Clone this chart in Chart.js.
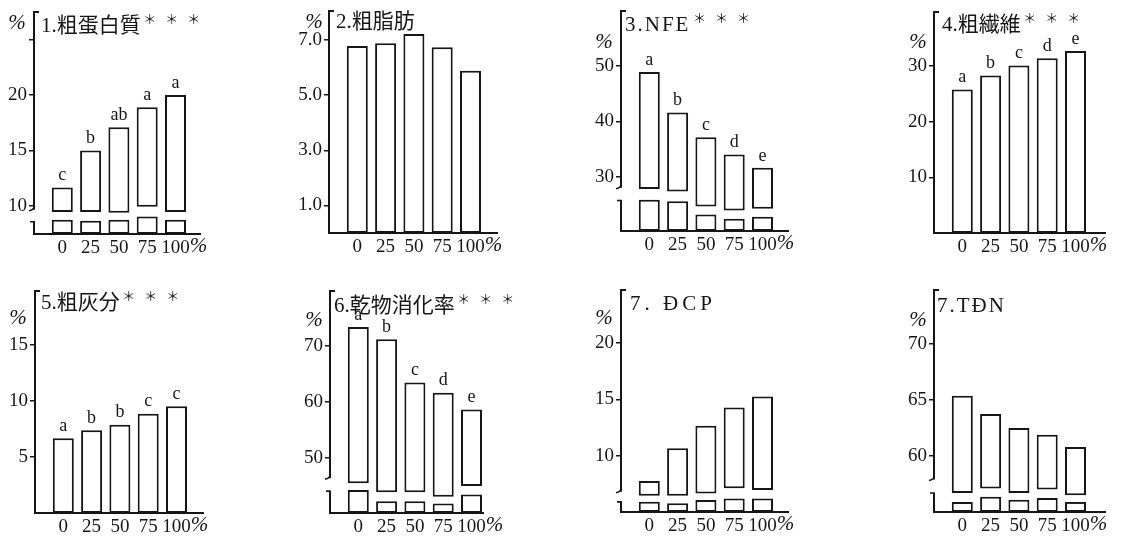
<!DOCTYPE html>
<html lang="ja">
<head>
<meta charset="utf-8">
<title>飼料成分と消化率</title>
<script src="https://cdn.jsdelivr.net/npm/chart.js@4.4.1/dist/chart.umd.min.js"></script>
<style>
  html, body { margin: 0; padding: 0; background: #fff; }
  #wrap { position: relative; width: 1132px; height: 547px; overflow: hidden; }
  #wrap canvas { position: absolute; }
</style>
</head>
<body>
<div id="wrap"></div>
<script>
// mixing level on the x axis (unit % is written after the last one)
const levels = ['0', '25', '50', '75', '100'];
const levelUnit = '%';

// 1. 粗蛋白質
const cpValues = [11.65, 15.0, 17.1, 18.9, 20.0];
const cpLetters = ['c', 'b', 'ab', 'a', 'a'];
const cpTicks = [10, 15, 20, 25];
const cpTickLabels = ['10', '15', '20', ''];
const cpStub = [8.74, 8.65, 8.74, 9.04, 8.74];
const cpBreak = [9.43, 9.43, 9.37, 9.9, 9.43];

// 2. 粗脂肪
const fatValues = [6.78, 6.88, 7.22, 6.74, 5.88];
const fatTicks = [1, 3, 5, 7];
const fatTickLabels = ['1.0', '3.0', '5.0', '7.0'];

// 3. NFE
const nfeValues = [48.9, 41.6, 37.1, 34.0, 31.6];
const nfeLetters = ['a', 'b', 'c', 'd', 'e'];
const nfeTicks = [30, 40, 50];
const nfeStub = [25.85, 25.55, 23.2, 22.4, 22.75];
const nfeBreak = [27.8, 27.35, 24.6, 23.9, 24.2];

// 4. 粗繊維
const fibValues = [25.8, 28.3, 30.1, 31.4, 32.7];
const fibLetters = ['a', 'b', 'c', 'd', 'e'];
const fibTicks = [10, 20, 30];

// 5. 粗灰分
const ashValues = [6.67, 7.38, 7.88, 8.86, 9.52];
const ashLetters = ['a', 'b', 'b', 'c', 'c'];
const ashTicks = [5, 10, 15];

// 6. 乾物消化率
const dmdValues = [73.3, 71.1, 63.4, 61.6, 58.6];
const dmdLetters = ['a', 'b', 'c', 'd', 'e'];
const dmdTicks = [50, 60, 70];
const dmdStub = [44.3, 42.3, 42.3, 41.9, 43.5];
const dmdBreak = [45.5, 43.9, 43.9, 43.1, 45.0];

// 7. DCP
const dcpValues = [7.75, 10.65, 12.65, 14.27, 15.25];
const dcpTicks = [10, 15, 20];
const dcpStub = [5.9, 5.77, 6.06, 6.2, 6.2];
const dcpBreak = [6.44, 6.45, 6.65, 7.1, 6.95];

// 7. TDN
const tdnValues = [65.36, 63.75, 62.5, 61.9, 60.8];
const tdnTicks = [60, 65, 70];
const tdnStub = [55.9, 56.35, 56.1, 56.25, 55.9];
const tdnBreak = [56.7, 57.1, 56.7, 57.0, 56.5];

const ink = '#161616';
const serif = '"Liberation Serif", "DejaVu Serif", serif';
const jp = '"Liberation Serif", "Noto Sans CJK JP", serif';
const PITCH = 28.3;   // px between bars
const YW = 30;        // fixed y axis box width

// cell = [left, top, width, height], box = [axisX, axisTop, xEnd, baseline]
const panels = [
  { title: '1.粗蛋白質', stars: true, values: cpValues, letters: cpLetters, ticks: cpTicks, tickLabels: cpTickLabels,
    stub: cpStub, brk: cpBreak, min: 7.45, max: 27.5, axisBreak: [8.56, 9.64],
    cell: [0, -6, 280, 279], box: [34, 12, 200, 234], titleAt: [7, 14], pctAt: [-17, 11] },
  { title: '2.粗脂肪', values: fatValues, ticks: fatTicks, tickLabels: fatTickLabels, min: 0, max: 8.05,
    cell: [280, -6, 280, 279], box: [329, 11, 497, 233], titleAt: [7, 11], pctAt: [-15, 11] },
  { title: '3.NFE', spacing: '2px', stars: true, values: nfeValues, letters: nfeLetters, ticks: nfeTicks,
    stub: nfeStub, brk: nfeBreak, min: 20.2, max: 59.9, axisBreak: [25.7, 28.0],
    cell: [560, -6, 280, 279], box: [621, 11, 788, 231], titleAt: [4, 14], pctAt: [-17, 31] },
  { title: '4.粗繊維', stars: true, values: fibValues, letters: fibLetters, ticks: fibTicks, min: 0, max: 39.7,
    cell: [840, -6, 292, 279], box: [934, 12, 1105, 233], titleAt: [8, 13], pctAt: [-16, 30] },
  { title: '5.粗灰分', stars: true, values: ashValues, letters: ashLetters, ticks: ashTicks, min: 0, max: 19.8,
    cell: [0, 273, 280, 274], box: [35, 291, 203, 513], titleAt: [6, 12], pctAt: [-17, 27] },
  { title: '6.乾物消化率', stars: true, values: dmdValues, letters: dmdLetters, ticks: dmdTicks,
    stub: dmdStub, brk: dmdBreak, min: 40.2, max: 79.7, axisBreak: [44.1, 46.4],
    cell: [280, 273, 280, 274], box: [330, 291, 483, 513], titleAt: [4, 15], pctAt: [-16, 29] },
  { title: '7. ĐCP', spacing: '4px', values: dcpValues, ticks: dcpTicks,
    stub: dcpStub, brk: dcpBreak, min: 5.0, max: 24.7, axisBreak: [5.9, 6.8],
    cell: [560, 273, 280, 274], box: [621, 290, 788, 512], titleAt: [9, 14], pctAt: [-17, 28] },
  { title: '7.TĐN', spacing: '2px', values: tdnValues, ticks: tdnTicks,
    stub: tdnStub, brk: tdnBreak, min: 55, max: 74.8, axisBreak: [56.7, 57.9],
    cell: [840, 273, 292, 274], box: [934, 290, 1105, 512], titleAt: [3, 16], pctAt: [-16, 30] }
];

// titles, %, significance letters and axis breaks
const panelText = {
  id: 'panelText',
  afterDraw(chart, args, o) {
    const { ctx, chartArea: a } = chart;
    const y = chart.scales.y;
    const x = chart.scales.x;
    ctx.save();
    ctx.strokeStyle = ink;
    ctx.fillStyle = ink;
    ctx.lineWidth = 2;

    // top bracket of the y axis
    ctx.beginPath();
    ctx.moveTo(a.left, a.top);
    ctx.lineTo(a.left + 5, a.top);
    ctx.stroke();

    if (o.axisBreak) {
      const yLo = y.getPixelForValue(o.axisBreak[0]);
      const yHi = y.getPixelForValue(o.axisBreak[1]);
      ctx.fillStyle = '#fff';
      ctx.fillRect(a.left - 3, yHi, 6, yLo - yHi);
      ctx.fillStyle = ink;
      ctx.lineWidth = 1.6;
      ctx.beginPath();
      ctx.moveTo(a.left, yHi - 3);
      ctx.quadraticCurveTo(a.left, yHi, a.left - 5, yHi + 1);
      ctx.moveTo(a.left - 4, yLo);
      ctx.lineTo(a.left, yLo);
      ctx.lineTo(a.left, yLo + 3);
      ctx.stroke();
    }

    // letters over bars
    if (o.letters) {
      const meta = chart.getDatasetMeta(chart.data.datasets.length - 1);
      ctx.font = '18px ' + serif;
      ctx.textAlign = 'center';
      ctx.textBaseline = 'bottom';
      o.letters.forEach((t, i) => {
        const el = meta.data[i];
        ctx.fillText(t, el.x, Math.min(el.y, el.base) - 3);
      });
    }

    // unit after the last x label
    ctx.font = '19px ' + serif;
    const last = levels.length - 1;
    const lx = x.getPixelForValue(last) + ctx.measureText(levels[last]).width / 2;
    ctx.font = 'italic 21px ' + serif;
    ctx.textAlign = 'left';
    ctx.textBaseline = 'top';
    ctx.fillText(levelUnit, lx, x.top + 2);

    // panel title
    ctx.font = '21px ' + jp;
    ctx.textAlign = 'left';
    ctx.textBaseline = 'middle';
    if (o.spacing) ctx.letterSpacing = o.spacing;
    const tx = a.left + o.titleAt[0];
    const ty = a.top + o.titleAt[1];
    ctx.fillText(o.title, tx, ty);
    const w = ctx.measureText(o.title).width;
    ctx.letterSpacing = '0px';
    if (o.stars) {
      ctx.font = '13px "Noto Sans CJK JP"';
      ctx.textAlign = 'center';
      for (let k = 0; k < 3; k++) {
        ctx.fillText('＊', tx + w + 9 + k * 22, ty - 7);
      }
    }

    // unit of the y axis
    ctx.font = 'italic 21px ' + serif;
    ctx.textAlign = 'center';
    ctx.fillText('%', a.left + o.pctAt[0], a.top + o.pctAt[1]);
    ctx.restore();
  }
};

const barStyle = {
  backgroundColor: '#fff',
  borderColor: ink,
  borderWidth: 2,
  borderSkipped: false,
  grouped: false,
  categoryPercentage: 1,
  barPercentage: 0.9,
  maxBarThickness: 21
};

panels.forEach(p => {
  const [cx, cy, cw, ch] = p.cell;
  const [ax, top, xEnd, base] = p.box;
  const canvas = document.createElement('canvas');
  canvas.width = cw;
  canvas.height = ch;
  canvas.style.left = cx + 'px';
  canvas.style.top = cy + 'px';
  document.getElementById('wrap').appendChild(canvas);

  const idx = p.values.map((v, i) => i);
  const datasets = [];
  if (p.stub) {
    datasets.push({ ...barStyle, data: idx.map(i => ({ x: i, y: [p.min, p.stub[i]] })) });
    datasets.push({ ...barStyle, data: idx.map(i => ({ x: i, y: [p.brk[i], p.values[i]] })) });
  } else {
    datasets.push({ ...barStyle, data: idx.map(i => ({ x: i, y: p.values[i] })) });
  }
  const tickLabels = p.tickLabels || p.ticks.map(String);

  new Chart(canvas, {
    type: 'bar',
    data: { datasets },
    options: {
      responsive: false,
      animation: false,
      layout: { padding: { left: ax - cx - YW, top: top - cy, right: cx + cw - xEnd, bottom: 0 } },
      plugins: {
        legend: { display: false },
        tooltip: { enabled: false },
        panelText: {
          title: p.title, stars: p.stars, letters: p.letters, spacing: p.spacing,
          axisBreak: p.axisBreak, titleAt: p.titleAt, pctAt: p.pctAt
        }
      },
      scales: {
        x: {
          type: 'linear',
          offset: false,
          min: -1,
          max: (xEnd - ax) / PITCH - 1,
          afterBuildTicks: s => { s.ticks = idx.map(v => ({ value: v })); },
          afterFit: s => { s.height = cy + ch - base; },
          ticks: {
            callback: (v, i) => levels[i],
            font: { family: serif, size: 19 },
            color: ink,
            padding: 3,
            maxRotation: 0,
            autoSkip: false
          },
          grid: { display: false, drawTicks: false, offset: false },
          border: { color: ink, width: 2 }
        },
        y: {
          min: p.min,
          max: p.max,
          afterBuildTicks: s => { s.ticks = p.ticks.map(v => ({ value: v })); },
          afterFit: s => { s.width = YW; },
          ticks: {
            callback: (v, i) => tickLabels[i],
            font: { family: serif, size: 19 },
            color: ink,
            padding: 2,
            autoSkip: false
          },
          grid: { drawOnChartArea: false, drawTicks: true, tickLength: 5, color: ink, lineWidth: 1.5 },
          border: { color: ink, width: 2 }
        }
      }
    },
    plugins: [panelText]
  });
});
</script>
</body>
</html>
